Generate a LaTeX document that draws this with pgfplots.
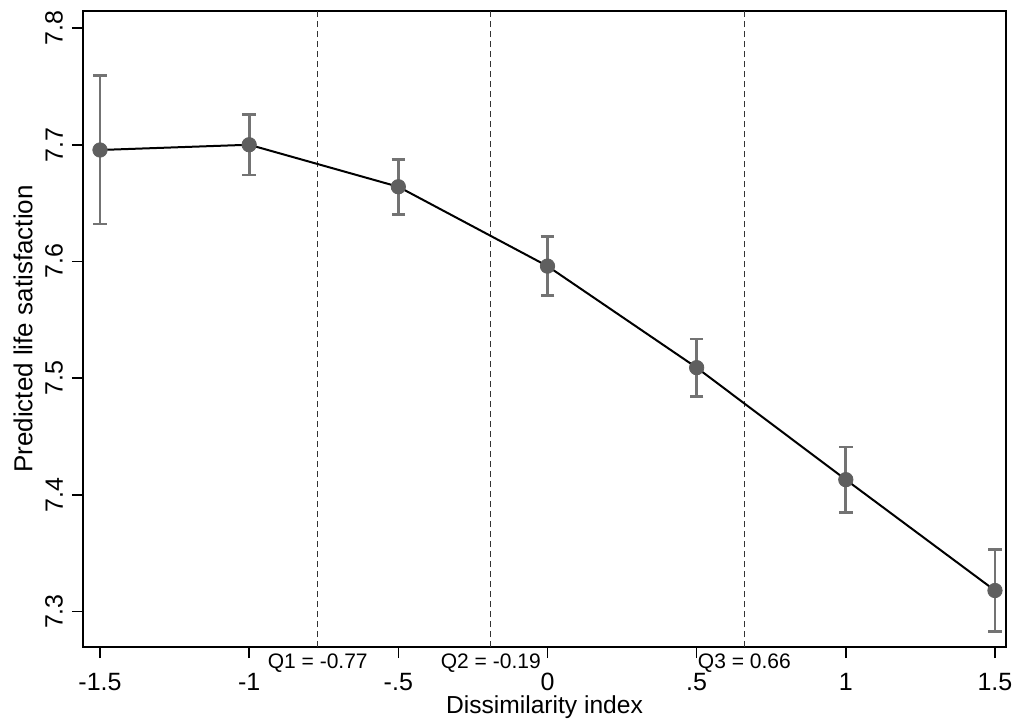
\documentclass[border=0pt]{standalone}
\usepackage{fontspec}
\setmainfont{Liberation Sans}
\usepackage{pgfplots}
\pgfplotsset{compat=1.18}
\definecolor{ptgray}{HTML}{5F5F5F}
\definecolor{bargray}{HTML}{737373}
\definecolor{qgray}{HTML}{333333}
\begin{document}
\begin{tikzpicture}
\useasboundingbox (-41.5pt,-36.5pt) rectangle (465pt,323.5pt);
\begin{axis}[
  scale only axis, width=461.5pt, height=318pt,
  xmin=-1.557, xmax=1.537, ymin=7.2696, ymax=7.8146,
  xtick={-1.5,-1,-0.5,0,0.5,1,1.5},
  xticklabels={-1.5,-1,-.5,0,.5,1,1.5},
  ytick={7.3,7.4,7.5,7.6,7.7,7.8},
  yticklabels={7.3,7.4,7.5,7.6,7.7,7.8},
  tick align=outside, tick pos=left, major tick length=5.5pt,
  axis line style={line width=1pt},
  every tick/.style={black, line width=0.8pt},
  ticklabel style={font=\fontsize{12.5}{14}\selectfont},
  xticklabel shift=4pt,
  yticklabel shift=1pt,
  yticklabel style={rotate=90, anchor=south},
  xlabel={Dissimilarity index}, ylabel={Predicted life satisfaction},
  xlabel style={font=\fontsize{12.3}{14}\selectfont, at={(axis description cs:0.5,0)}, anchor=base, yshift=-33pt},
  ylabel style={font=\fontsize{13}{15}\selectfont, at={(axis description cs:-0.065,0.5)}, anchor=center},
  clip=false,
]
% quartile lines
\addplot[qgray, line width=0.6pt, dash pattern=on 3pt off 2pt] coordinates {(-0.77,7.2696) (-0.77,7.8146)};
\addplot[qgray, line width=0.6pt, dash pattern=on 3pt off 2pt] coordinates {(-0.19,7.2696) (-0.19,7.8146)};
\addplot[qgray, line width=0.6pt, dash pattern=on 3pt off 2pt] coordinates {(0.66,7.2696) (0.66,7.8146)};
\node[anchor=north, font=\fontsize{10.5}{11}\selectfont, inner sep=0pt, yshift=-3pt] at (axis cs:-0.77,7.2696) {Q1 = -0.77};
\node[anchor=north, font=\fontsize{10.5}{11}\selectfont, inner sep=0pt, yshift=-3pt] at (axis cs:-0.19,7.2696) {Q2 = -0.19};
\node[anchor=north, font=\fontsize{10.5}{11}\selectfont, inner sep=0pt, yshift=-3pt] at (axis cs:0.66,7.2696) {Q3 = 0.66};
% predicted line
\addplot[black, line width=1pt, no marks] coordinates {
  (-1.5,7.6955) (-1,7.700) (-0.5,7.664) (0,7.596) (0.5,7.509) (1,7.413) (1.5,7.318)};
% CIs and points
\addplot[only marks, mark=*, mark size=3.6pt, mark options={fill=ptgray, draw=ptgray},
  error bars/.cd, y dir=both, y explicit,
  error bar style={line width=1.4pt, color=bargray},
  error mark options={rotate=90, mark size=3.4pt, line width=1.4pt, color=bargray}]
  coordinates {
  (-1.5,7.6955) +- (0,0.0635)
  (-1,7.700) +- (0,0.026)
  (-0.5,7.664) +- (0,0.0235)
  (0,7.596) +- (0,0.0255)
  (0.5,7.509) +- (0,0.0245)
  (1,7.413) +- (0,0.028)
  (1.5,7.318) +- (0,0.035)};
\end{axis}
\end{tikzpicture}
\end{document}
